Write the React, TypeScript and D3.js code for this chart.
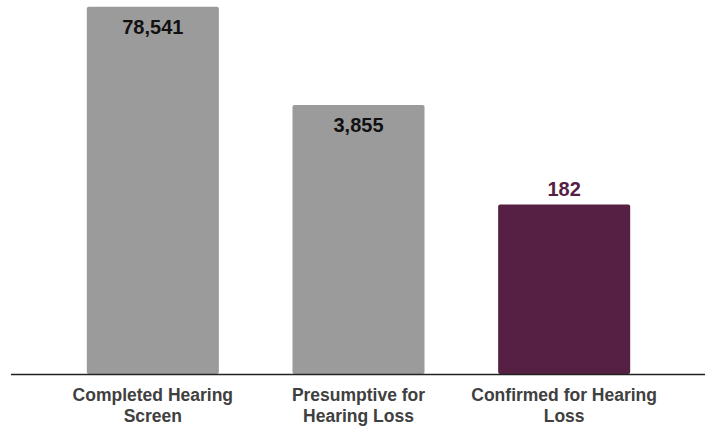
import * as d3 from 'd3'

const categories = ['Completed Hearing Screen', 'Presumptive for Hearing Loss', 'Confirmed for Hearing Loss']
const labelLines = [
  ['Completed Hearing', 'Screen'],
  ['Presumptive for', 'Hearing Loss'],
  ['Confirmed for Hearing', 'Loss'],
]
const values = [78541, 3855, 182]
const highlighted = [false, false, true]

export default function App() {
  const width = 705
  const height = 426
  const baseline = 374

  const x = d3.scaleBand<string>()
    .domain(categories)
    .range([50, 667])
    .paddingInner(0.358)
    .paddingOuter(0.179)

  // bars read as log-scaled (~75px per decade)
  const y = d3.scaleLog()
    .domain([1, 100000])
    .range([baseline, -1])

  const fmt = d3.format(',')
  const font = 'Arial, "Liberation Sans", Helvetica, sans-serif'

  return (
    <div style={{ position: 'fixed', left: 0, top: 0 }}>
      <svg width={width} height={height} style={{ display: 'block', background: '#fff' }}>
        {categories.map((c, i) => {
          const bx = x(c)!
          const by = y(values[i])
          const bw = x.bandwidth()
          const inside = !highlighted[i]
          return (
            <g key={c}>
              <rect
                x={bx}
                y={by}
                width={bw}
                height={baseline - by}
                rx={2}
                fill={highlighted[i] ? '#552043' : '#9b9b9b'}
              />
              <text
                x={bx + bw / 2}
                y={inside ? by + 27 : by - 8}
                textAnchor="middle"
                fontFamily={font}
                fontWeight="bold"
                fontSize={20}
                fill={highlighted[i] ? '#552043' : '#111'}
              >
                {fmt(values[i])}
              </text>
              {labelLines[i].map((line, j) => (
                <text
                  key={j}
                  x={bx + bw / 2}
                  y={401 + j * 21}
                  textAnchor="middle"
                  fontFamily={font}
                  fontWeight="bold"
                  fontSize={17.5}
                  fill="#404040"
                >
                  {line}
                </text>
              ))}
            </g>
          )
        })}
        <line x1={11} x2={705} y1={baseline + 0.5} y2={baseline + 0.5} stroke="#222" strokeWidth={1.5} />
      </svg>
    </div>
  )
}
